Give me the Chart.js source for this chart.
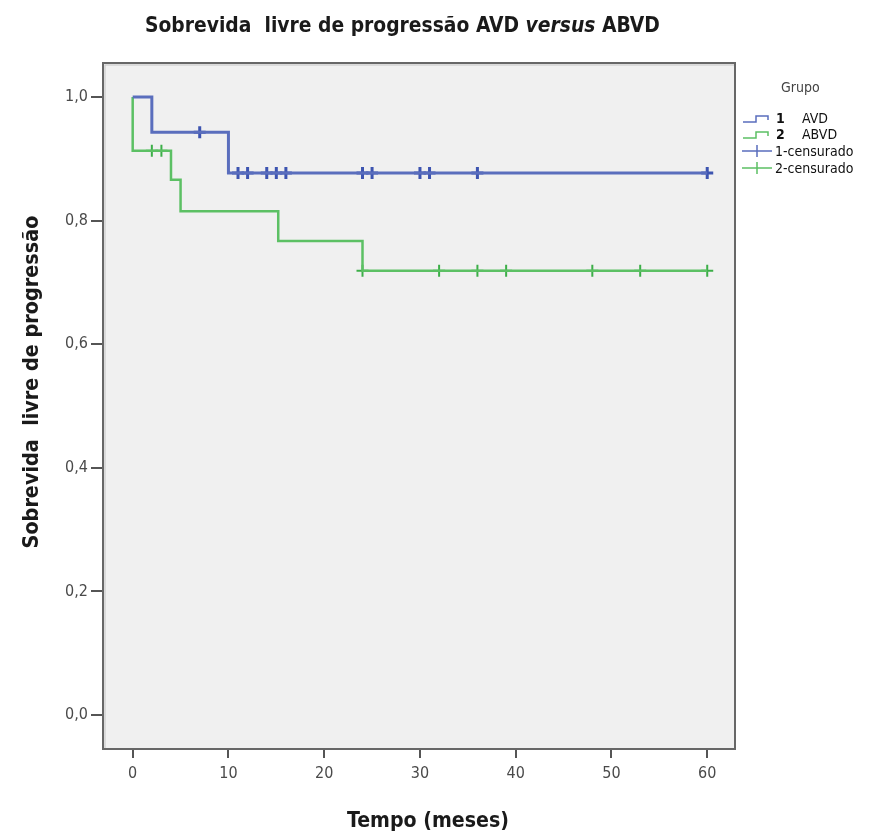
<!DOCTYPE html>
<html><head><meta charset="utf-8">
<script src="https://cdn.jsdelivr.net/npm/chart.js@4/dist/chart.umd.min.js"></script>
<style>html,body{margin:0;padding:0;background:#fff;}#wrap{width:876px;height:833px;position:relative}</style>
</head><body><div id="wrap"><canvas id="c" width="876" height="833"></canvas></div>
<script>
// ---- data ----
const groupLabels = ['1  AVD', '2  ABVD'];
const censorLabels = ['1-censurado', '2-censurado'];
const avdTimes = [0, 2, 10, 60];
const avdSurv = [1.0, 0.943, 0.877, 0.877];
const abvdTimes = [0, 0, 4, 5, 15.2, 24, 60];
const abvdSurv = [1.0, 0.913, 0.866, 0.815, 0.767, 0.719, 0.719];
const avdCensorTimes = [7, 11, 12, 14, 15, 16, 24, 25, 30, 31, 36, 60];
const avdCensorSurv = [0.943, 0.877, 0.877, 0.877, 0.877, 0.877, 0.877, 0.877, 0.877, 0.877, 0.877, 0.877];
const abvdCensorTimes = [2, 3, 24, 32, 36, 39, 48, 53, 60];
const abvdCensorSurv = [0.913, 0.913, 0.719, 0.719, 0.719, 0.719, 0.719, 0.719, 0.719];
const xTicks = [0, 10, 20, 30, 40, 50, 60];
const yTicks = [0, 0.2, 0.4, 0.6, 0.8, 1.0];

const BLUE = '#5a6ebd', BLUE_M = '#3d54b0';
const GREEN = '#5cc064', GREEN_M = '#3cae48';
const NARROW = '"Liberation Sans Narrow", "DejaVu Sans Condensed", "Liberation Sans", sans-serif';

const pts = (xs, ys) => xs.map((x, i) => ({x, y: ys[i]}));

function fitText(ctx, parts, weight, target, base) {
  const mk = (p, s) => `${p.italic ? 'italic ' : ''}${weight} ${s}px ${NARROW}`;
  let w = 0;
  parts.forEach(p => { ctx.font = mk(p, base); w += ctx.measureText(p.t).width; });
  const size = base * target / w;
  return {size, mk: p => mk(p, size)};
}
function drawParts(ctx, parts, weight, target, base, x, y, align) {
  const f = fitText(ctx, parts, weight, target, base);
  let total = 0;
  parts.forEach(p => { ctx.font = f.mk(p); total += ctx.measureText(p.t).width; });
  let cx = align === 'center' ? x - total / 2 : x;
  ctx.textAlign = 'left';
  parts.forEach(p => { ctx.font = f.mk(p); ctx.fillText(p.t, cx, y); cx += ctx.measureText(p.t).width; });
}

const decor = {
  id: 'decor',
  beforeDatasetsDraw(chart) {
    const {ctx, chartArea: a} = chart;
    ctx.save();
    ctx.fillStyle = '#f0f0f0';
    ctx.fillRect(a.left, a.top, a.right - a.left, a.bottom - a.top);
    ctx.restore();
  },
  afterDraw(chart) {
    const {ctx, chartArea: a} = chart;
    ctx.save();
    // frame
    ctx.strokeStyle = '#c4c4c4'; ctx.lineWidth = 1;
    ctx.strokeRect(a.left + 2, a.top + 2, a.right - a.left - 2, a.bottom - a.top - 2);
    ctx.strokeStyle = '#676767'; ctx.lineWidth = 2;
    ctx.strokeRect(a.left, a.top, a.right - a.left, a.bottom - a.top);
    // title
    ctx.fillStyle = '#1a1a1a'; ctx.textBaseline = 'alphabetic';
    drawParts(ctx, [{t: 'Sobrevida  livre de progressão AVD '}, {t: 'versus', italic: true}, {t: ' ABVD'}], 'bold', 515, 24, 145, 32, 'left');
    // x title
    drawParts(ctx, [{t: 'Tempo (meses)'}], 'bold', 162, 22, 428, 827, 'center');
    // y title
    ctx.save();
    ctx.translate(38, 382); ctx.rotate(-Math.PI / 2);
    drawParts(ctx, [{t: 'Sobrevida  livre de progressão'}], 'bold', 333, 22, 0, 0, 'center');
    ctx.restore();
    // legend
    ctx.fillStyle = '#444'; ctx.font = `14px ${NARROW}`; ctx.textBaseline = 'middle';
    ctx.fillText('Grupo', 781, 88);
    const rows = [118, 134, 151, 168];
    const cols = [BLUE, GREEN];
    ctx.lineWidth = 1.5;
    [0, 1].forEach(i => {
      const y = rows[i];
      ctx.strokeStyle = cols[i];
      ctx.beginPath();
      ctx.moveTo(743, y + 4); ctx.lineTo(756, y + 4); ctx.lineTo(756, y - 2); ctx.lineTo(768, y - 2); ctx.lineTo(768, y + 2);
      ctx.stroke();
      ctx.fillStyle = '#111';
      const [num, name] = groupLabels[i].split(/\s+/);
      ctx.font = `bold 14px ${NARROW}`;
      ctx.fillText(num, 776, y + 1);
      ctx.font = `14px ${NARROW}`;
      ctx.fillText(name, 802, y + 1);
    });
    [0, 1].forEach(i => {
      const y = rows[i + 2];
      ctx.strokeStyle = cols[i];
      ctx.beginPath();
      ctx.moveTo(742, y); ctx.lineTo(772, y);
      ctx.moveTo(757, y - 6); ctx.lineTo(757, y + 6);
      ctx.stroke();
      ctx.fillStyle = '#111';
      ctx.fillText(censorLabels[i], 775, y + 1);
    });
    ctx.restore();
  }
};

new Chart(document.getElementById('c'), {
  type: 'line',
  data: {
    datasets: [
      {label: 'AVD', data: pts(avdTimes, avdSurv), borderColor: BLUE, borderWidth: 3, stepped: true, pointRadius: 0, fill: false},
      {label: 'ABVD', data: pts(abvdTimes, abvdSurv), borderColor: GREEN, borderWidth: 2.5, stepped: true, pointRadius: 0, fill: false},
      {label: '1-censurado', data: pts(avdCensorTimes, avdCensorSurv), showLine: false, pointStyle: 'cross', pointRadius: 6, borderColor: BLUE_M, pointBorderWidth: 3},
      {label: '2-censurado', data: pts(abvdCensorTimes, abvdCensorSurv), showLine: false, pointStyle: 'cross', pointRadius: 6, borderColor: GREEN_M, pointBorderWidth: 2}
    ]
  },
  options: {
    responsive: false, animation: false, devicePixelRatio: 1,
    layout: {padding: {left: 0, right: 141, top: 63, bottom: 0}},
    plugins: {legend: {display: false}, tooltip: {enabled: false}, title: {display: false}},
    scales: {
      x: {
        type: 'linear', min: -3.1, max: 62.9,
        afterBuildTicks: s => { s.ticks = xTicks.map(v => ({value: v})); },
        afterFit: s => { s.height = 84; },
        ticks: {color: '#4a4a4a', font: {family: NARROW, size: 16}, padding: 6, autoSkip: false, maxRotation: 0,
                callback: v => String(v)},
        grid: {drawOnChartArea: false, drawTicks: true, tickLength: 9, color: '#555', lineWidth: 2},
        border: {display: false}
      },
      y: {
        type: 'linear', min: -0.055, max: 1.055,
        afterBuildTicks: s => { s.ticks = yTicks.map(v => ({value: v})); },
        afterFit: s => { s.width = 103; },
        ticks: {color: '#4a4a4a', font: {family: NARROW, size: 16}, padding: 3, autoSkip: false,
                callback: v => v.toFixed(1).replace('.', ',')},
        grid: {drawOnChartArea: false, drawTicks: true, tickLength: 12, color: '#555', lineWidth: 2},
        border: {display: false}
      }
    }
  },
  plugins: [decor]
});
</script></body></html>
